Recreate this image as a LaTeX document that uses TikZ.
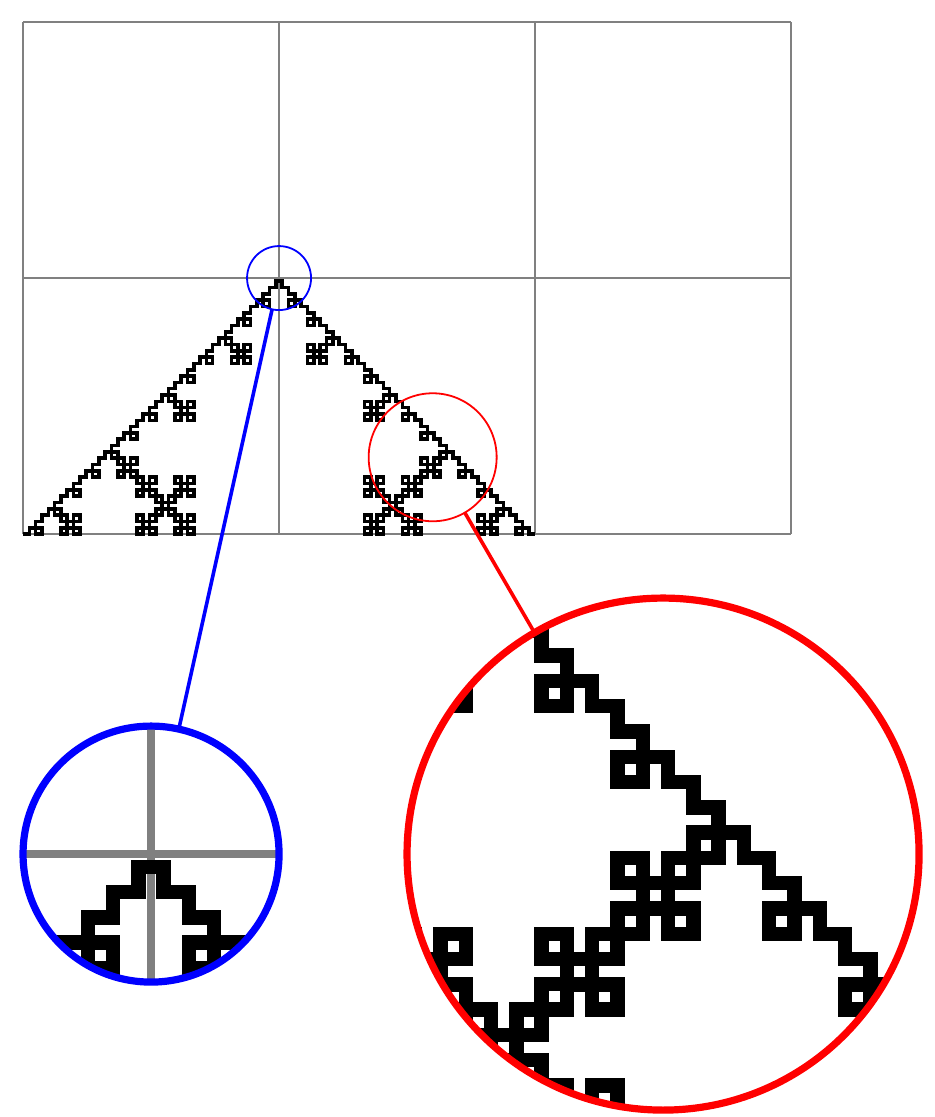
\documentclass[tikz,border=0pt]{standalone}
\usetikzlibrary{spy,decorations.fractals}
\begin{document}
\begin{tikzpicture}[spy using outlines={circle, magnification=4, connect spies}]
  \useasboundingbox (-0.09,-2.277) rectangle (3.559,2.086);
  \draw [help lines] (0,0) grid (3,2);
  \draw [decoration=Koch curve type 1]
    decorate{ decorate{ decorate{ decorate{ (0,0) -- (2,0) }}}};
  \spy [red,size=2cm] on (1.6,0.3) in node (redlens) [fill=white] at (2.5,-1.25);
  \spy [blue,size=1cm] on (1,1) in node (bluelens) [fill=white] at (0.5,-1.25);
\end{tikzpicture}
\end{document}
